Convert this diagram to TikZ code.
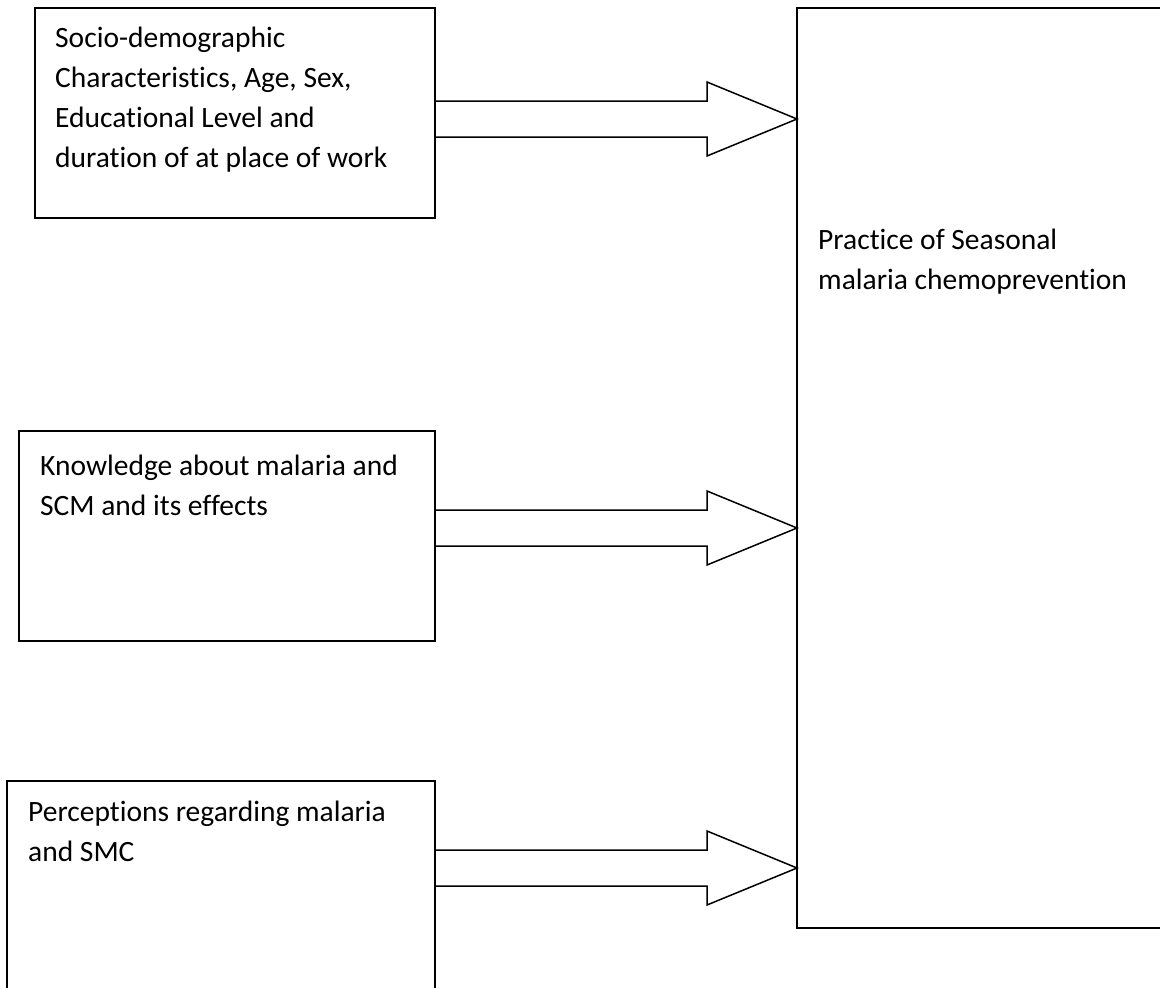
\documentclass[tikz,border=0pt]{standalone}
\usepackage{fontspec}
\setmainfont{Carlito}[Ligatures=NoCommon]
\newcommand{\txtlines}[1]{\vtop{\baselineskip=40pt\lineskiplimit=-100pt #1}}
\begin{document}
\begin{tikzpicture}[x=1pt,y=-1pt,
  box/.style={draw,line width=1.6pt,rectangle,inner sep=0pt,outer sep=0pt,anchor=north west},
  lbl/.style={anchor=base west,inner sep=0pt,font=\fontsize{29.5}{40}\selectfont},
  blockarr/.style={draw,line width=1.5pt,line join=miter}]
\useasboundingbox (0,0) rectangle (1160,988);
\clip (0,0) rectangle (1160,988);
% boxes
\node[box,minimum width=400pt,minimum height=210pt] (b1) at (35,8) {};
\node[box,minimum width=416pt,minimum height=210pt] (b2) at (19,431) {};
\node[box,minimum width=428pt,minimum height=230pt] (b3) at (7,781) {};
\node[box,minimum width=380pt,minimum height=920pt] (R) at (797,8) {};
% texts
\node[lbl] (t1) at (55,47) {\txtlines{\hbox{Socio-demographic}\hbox{Characteristics, Age, Sex,}\hbox{Educational Level and}\hbox{duration of at place of work}}};
\node[lbl] (t2) at (40,475) {\txtlines{\hbox{Knowledge about malaria and}\hbox{SCM and its effects}}};
\node[lbl] (t3) at (28,821) {\txtlines{\hbox{Perceptions regarding malaria}\hbox{and SMC}}};
\node[lbl] (tR) at (818,249) {\txtlines{\hbox{Practice of Seasonal}\hbox{malaria chemoprevention}}};
% arrow tips on the target box
\path (R.west |- 0,119) coordinate (p1);
\path (R.west |- 0,528) coordinate (p2);
\path (R.west |- 0,868) coordinate (p3);
% block arrows
\draw[blockarr] (b1.east |- p1) ++(0,-18) -- ++(272,0) -- ++(0,-19) -- (p1) -- ++(-90,37) -- ++(0,-19) -- ++(-272,0);
\draw[blockarr] (b2.east |- p2) ++(0,-18) -- ++(272,0) -- ++(0,-19) -- (p2) -- ++(-90,37) -- ++(0,-19) -- ++(-272,0);
\draw[blockarr] (b3.east |- p3) ++(0,-18) -- ++(272,0) -- ++(0,-19) -- (p3) -- ++(-90,37) -- ++(0,-19) -- ++(-272,0);
\end{tikzpicture}
\end{document}
